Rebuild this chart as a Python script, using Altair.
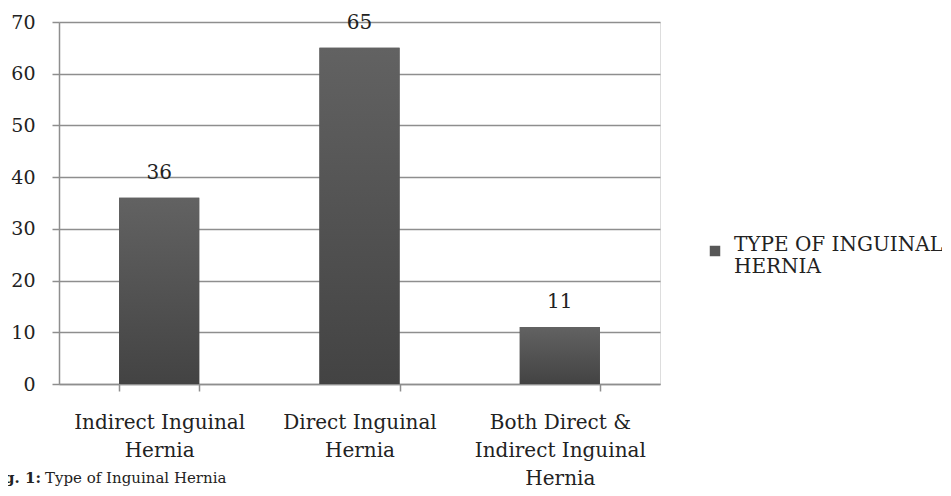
import altair as alt
import pandas as pd

categories = ["Indirect Inguinal Hernia", "Direct Inguinal Hernia", "Both Direct & Indirect Inguinal Hernia"]
values = [36, 65, 11]
label_lines = [["Indirect Inguinal", "Hernia"], ["Direct Inguinal", "Hernia"], ["Both Direct &", "Indirect Inguinal", "Hernia"]]
series_name = "TYPE OF INGUINAL HERNIA"
legend_lines = ["TYPE OF INGUINAL", "HERNIA"]
y_ticks = [0, 10, 20, 30, 40, 50, 60, 70]
caption_bold = "Fig. 1:"
caption_text = "Type of Inguinal Hernia"

df = pd.DataFrame({"category": categories, "value": values, "series": [series_name] * len(categories)})

FONT = "DejaVu Serif"
GRID = "#8e8e8e"
BAR = "#575757"

def js_list(lst):
    return "[" + ",".join("'" + s.replace("'", "\\'") + "'" for s in lst) + "]"

expr = "''"
for c, lines in reversed(list(zip(categories, label_lines))):
    expr = f"datum.label == '{c}' ? {js_list(lines)} : " + expr

x_enc = alt.X(
    "category:N",
    sort=categories,
    scale=alt.Scale(paddingInner=0.6, paddingOuter=0.3),
    axis=alt.Axis(
        title=None, labelAngle=0, labelExpr=expr, labelFont=FONT, labelFontSize=20,
        labelColor="#222222", labelLineHeight=28, labelPadding=21, labelBaseline="top",
        tickBand="extent", tickSize=7, tickColor=GRID, tickWidth=1.5,
        domainColor=GRID, domainWidth=1.5, grid=False, labelLimit=400,
    ),
)
y_enc = alt.Y(
    "value:Q",
    scale=alt.Scale(domain=[0, 70], nice=False),
    axis=alt.Axis(
        title=None, values=y_ticks, labelFont=FONT, labelFontSize=19, labelColor="#222222",
        labelPadding=17, tickSize=7, tickColor=GRID, tickWidth=1.5,
        domainColor=GRID, domainWidth=1.5, gridColor=GRID, gridWidth=1.5, grid=True,
    ),
)

base = alt.Chart(df)

legend_bars = base.mark_bar().encode(
    x=x_enc, y=y_enc,
    color=alt.Color(
        "series:N",
        scale=alt.Scale(range=[BAR]),
        legend=alt.Legend(
            title=None, orient="none", legendX=646, legendY=219,
            symbolType="square", symbolSize=110, symbolStrokeWidth=0,
            labelFont=FONT, labelFontSize=20, labelColor="#222222",
            labelExpr=js_list(legend_lines),
            labelBaseline="alphabetic", labelLimit=400, labelOffset=9,
        ),
    ),
)

grad_bars = base.mark_bar(
    color=alt.Gradient(
        gradient="linear",
        stops=[alt.GradientStop(color="#626262", offset=0), alt.GradientStop(color="#434343", offset=1)],
        x1=1, x2=1, y1=0, y2=1,
    )
).encode(x=alt.X("category:N", sort=categories), y="value:Q")

labels = base.mark_text(font=FONT, fontSize=20, color="#222222", baseline="alphabetic", dy=-19).encode(
    x=alt.X("category:N", sort=categories), y="value:Q", text="value:Q"
)

cap_df = pd.DataFrame({"bold": [caption_bold], "text": [caption_text]})
cap_bold = alt.Chart(cap_df).mark_text(font=FONT, fontSize=15, fontWeight="bold", align="right", baseline="alphabetic", color="#222222").encode(
    x=alt.value(-18), y=alt.value(461), text="bold:N"
)
cap_reg = alt.Chart(cap_df).mark_text(font=FONT, fontSize=15, align="left", baseline="alphabetic", color="#222222").encode(
    x=alt.value(-14), y=alt.value(461), text="text:N"
)

chart = alt.layer(legend_bars, grad_bars, labels, cap_bold, cap_reg).properties(
    width=601, height=362,
    autosize=alt.AutoSizeParams(type="none"),
    padding={"left": 51, "top": 14, "right": 282, "bottom": 104},
).configure_view(stroke=None).configure(background="white")

chart.save("out.html", embed_options={"renderer": "svg", "actions": False})
